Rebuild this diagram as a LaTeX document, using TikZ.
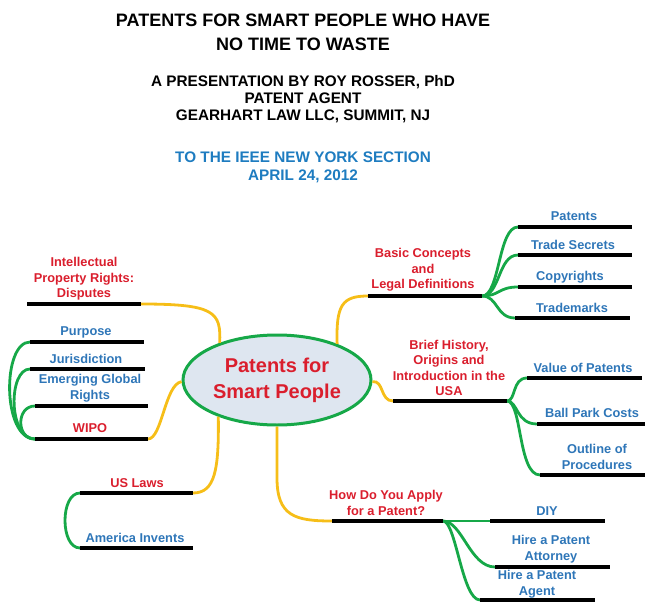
\documentclass[tikz,border=0pt]{standalone}
\usepackage{fontspec}
\setmainfont{Liberation Sans}
\usetikzlibrary{shapes.geometric}
\definecolor{mred}{RGB}{218,30,45}
\definecolor{mblue}{RGB}{46,118,184}
\definecolor{tblue}{RGB}{30,124,192}
\definecolor{myel}{RGB}{246,190,24}
\definecolor{mgrn}{RGB}{22,168,72}
\definecolor{efill}{RGB}{222,230,240}
\begin{document}
\begin{tikzpicture}[x=1pt,y=-1pt,
  bar/.style={line width=3.2pt,black},
  yel/.style={line width=2.8pt,myel},
  grn/.style={line width=2.8pt,mgrn},
  lab/.style={font=\fontsize{12.8}{15.5}\selectfont\bfseries,align=center,inner sep=0pt},
  rlab/.style={lab,text=mred},
  blab/.style={lab,text=mblue},
  ttl/.style={align=center,inner sep=0pt,font=\fontsize{18}{24}\selectfont\bfseries},
  sub/.style={align=center,inner sep=0pt,font=\fontsize{15.3}{17}\selectfont\bfseries},
  bsub/.style={align=center,inner sep=0pt,text=tblue,font=\fontsize{15.3}{18}\selectfont\bfseries}]
\useasboundingbox (0,0) rectangle (645,602);

% titles
\node[ttl] (title) at (303,32) {PATENTS FOR SMART PEOPLE WHO HAVE\\NO TIME TO WASTE};
\node[sub] (author) at (303,99) {A PRESENTATION BY ROY ROSSER, PhD\\PATENT AGENT\\GEARHART LAW LLC, SUMMIT, NJ};
\node[bsub] (venue) at (303,167.5) {TO THE IEEE NEW YORK SECTION\\APRIL 24, 2012};

% bar end points
\coordinate (dispL) at (27,304);  \coordinate (dispR) at (141,304);
\coordinate (purpL) at (30,342);  \coordinate (purpR) at (144,342);
\coordinate (jurL) at (30,369);   \coordinate (jurR) at (145,369);
\coordinate (emgL) at (35,406);   \coordinate (emgR) at (148,406);
\coordinate (wipoL) at (35,439);  \coordinate (wipoR) at (148,439);
\coordinate (uslL) at (80,493);   \coordinate (uslR) at (193,493);
\coordinate (amiL) at (80,548);   \coordinate (amiR) at (193,548);
\coordinate (appL) at (332,521);  \coordinate (appR) at (443,521);
\coordinate (diyL) at (490,521);  \coordinate (diyR) at (605,521);
\coordinate (attL) at (495,567);  \coordinate (attR) at (610,567);
\coordinate (agtL) at (480,600);  \coordinate (agtR) at (595,600);
\coordinate (basL) at (368,296);  \coordinate (basR) at (482,296);
\coordinate (patL) at (518,227);  \coordinate (patR) at (632,227);
\coordinate (trsL) at (518,255);  \coordinate (trsR) at (632,255);
\coordinate (copL) at (518,287);  \coordinate (copR) at (632,287);
\coordinate (tmkL) at (515,318);  \coordinate (tmkR) at (630,318);
\coordinate (hisL) at (393,401);  \coordinate (hisR) at (507,401);
\coordinate (valL) at (527,378);  \coordinate (valR) at (642,378);
\coordinate (balL) at (537,424);  \coordinate (balR) at (645,424);
\coordinate (outL) at (540,475);  \coordinate (outR) at (645,475);

% centre ellipse (placed first for anchors)
\node[ellipse,draw=mgrn,line width=3pt,fill=efill,minimum width=188pt,minimum height=90pt,inner sep=0pt,
      align=center,text=mred,font=\fontsize{20}{26}\selectfont\bfseries] (hub) at (277,380) {Patents for\\Smart People};

% yellow main branches
\draw[yel] (hub.147) .. controls (221,312) and (215,304) .. (dispR);
\draw[yel] (hub.181) .. controls (165,384) and (162,439) .. (wipoR);
\draw[yel] (hub.212) .. controls (219,470) and (215,493) .. (uslR);
\draw[yel] (hub.270) -- (277,478) .. controls (277,516) and (295,521) .. (appL);
\draw[yel] (hub.31) .. controls (336,305) and (342,296) .. (basL);
\draw[yel] (hub.-1) .. controls (384,380) and (380,401) .. (hisL);

% green sub branches
\draw[grn] (wipoL) .. controls (2,439) and (2,342) .. (purpL);
\draw[grn] (wipoL) .. controls (8,439) and (8,369) .. (jurL);
\draw[grn] (wipoL) .. controls (16,439) and (16,406) .. (emgL);
\draw[grn] (uslL) .. controls (60,493) and (60,548) .. (amiL);
\draw[grn] (basR) .. controls (500,296) and (498,227) .. (patL);
\draw[grn] (basR) .. controls (500,296) and (498,255) .. (trsL);
\draw[grn] (basR) .. controls (500,296) and (498,287) .. (copL);
\draw[grn] (basR) .. controls (498,296) and (496,318) .. (tmkL);
\draw[grn] (hisR) .. controls (516,401) and (512,378) .. (valL);
\draw[grn] (hisR) .. controls (518,401) and (516,424) .. (balL);
\draw[grn] (hisR) .. controls (522,401) and (518,475) .. (outL);
\draw[grn] (appR) .. controls (462,521) and (470,567) .. (attL);
\draw[grn] (appR) .. controls (456,521) and (462,600) .. (agtL);

% black bars
\foreach \p in {disp,purp,jur,emg,wipo,usl,ami,app,diy,att,agt,bas,pat,trs,cop,tmk,his,val,bal,out}
  \draw[bar] (\p L) -- (\p R);
\draw[grn] (appR) -- (diyL);

% labels
\node[rlab] (ipr) at (84,279) {Intellectual\\Property Rights:\\Disputes};
\node[blab] (purp) at (86,332) {Purpose};
\node[blab] (jur) at (86,359) {Jurisdiction};
\node[blab] (emg) at (90,388) {Emerging Global\\Rights};
\node[rlab] (wipo) at (90,428) {WIPO};
\node[rlab] (usl) at (137,483) {US Laws};
\node[blab] (ami) at (135,538) {America Invents};
\node[rlab] (app) at (386,503) {How Do You Apply\\for a Patent?};
\node[blab] (diy) at (547,511) {DIY};
\node[blab] (att) at (551,549) {Hire a Patent\\Attorney};
\node[blab] (agt) at (537,584) {Hire a Patent\\Agent};
\node[rlab] (bas) at (423,270) {Basic Concepts\\and\\Legal Definitions};
\node[blab] (pat) at (574,216) {Patents};
\node[blab] (trs) at (573,245) {Trade Secrets};
\node[blab] (cop) at (570,277) {Copyrights};
\node[blab] (tmk) at (572,308) {Trademarks};
\node[rlab] (his) at (449,368) {Brief History,\\Origins and\\Introduction in the\\USA};
\node[blab] (val) at (583,368) {Value of Patents};
\node[blab] (bal) at (592,413) {Ball Park Costs};
\node[blab] (out) at (597,457) {Outline of\\Procedures};
\end{tikzpicture}
\end{document}
